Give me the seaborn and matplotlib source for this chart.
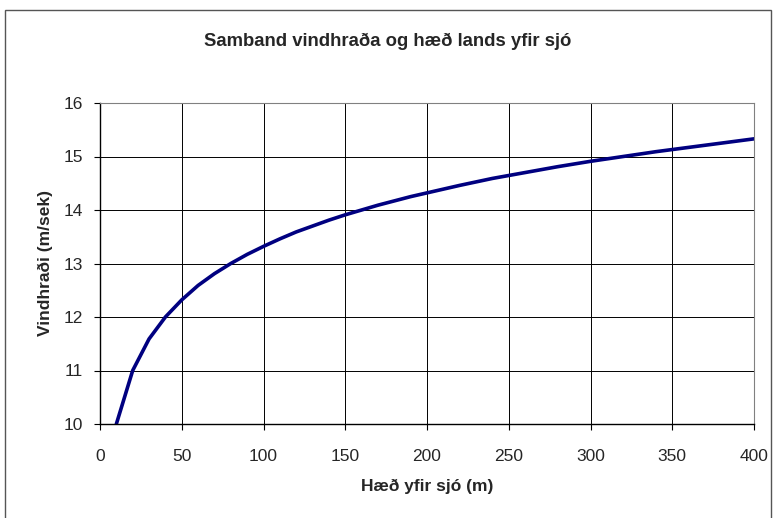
import pandas as pd
import seaborn as sns
import matplotlib.pyplot as plt
from matplotlib.patches import Rectangle

# Values
haed = [10, 20, 30, 40, 50, 60, 70, 80, 90, 100,
        110, 120, 130, 140, 150, 160, 170, 180, 190, 200,
        220, 240, 260, 280, 300, 320, 340, 360, 380, 400]
vindhradi = [10.00, 11.00, 11.59, 12.00, 12.32, 12.59, 12.81, 13.00, 13.17, 13.32,
             13.46, 13.59, 13.70, 13.81, 13.91, 14.00, 14.09, 14.17, 14.25, 14.32,
             14.46, 14.59, 14.70, 14.81, 14.91, 15.00, 15.09, 15.17, 15.25, 15.33]
x_ticks = [0, 50, 100, 150, 200, 250, 300, 350, 400]
y_ticks = [10, 11, 12, 13, 14, 15, 16]

df = pd.DataFrame({'haed': haed, 'vindhradi': vindhradi})

sns.set_style('white')
plt.rcParams['font.family'] = ['Liberation Sans', 'DejaVu Sans']

fig = plt.figure(figsize=(7.76, 5.18), dpi=100)
ax = fig.add_axes([100 / 776, 1 - 424 / 518, 654 / 776, 321 / 518])

# outer chart border
fig.patches.append(Rectangle((5 / 776, -0.01), 766 / 776, 1 - 10 / 518 + 0.01,
                             transform=fig.transFigure, fill=False,
                             edgecolor='#555555', linewidth=1.0))

sns.lineplot(data=df, x='haed', y='vindhradi', color='#000080', linewidth=2.6, ax=ax)

ax.set_xlim(0, 400)
ax.set_ylim(10, 16)
ax.set_xticks(x_ticks)
ax.set_yticks(y_ticks)
ax.grid(True, color='black', linewidth=0.7)
ax.set_axisbelow(True)
for side in ['top', 'right']:
    ax.spines[side].set_color('#808080')
for side in ['left', 'bottom']:
    ax.spines[side].set_color('black')
    ax.spines[side].set_linewidth(1.0)
ax.tick_params(axis='both', direction='out', length=4, width=0.8, color='black',
               labelsize=12.5, bottom=True, left=True)
ax.tick_params(axis='x', pad=14)
ax.tick_params(axis='y', pad=8)

ax.set_xlabel('Hæð yfir sjó (m)', fontsize=12.5, fontweight='bold', labelpad=11)
ax.set_ylabel('Vindhraði (m/sek)', fontsize=12.5, fontweight='bold', labelpad=8)
fig.text(0.5 * (205 + 570) / 776, 1 - 41 / 518, 'Samband vindhraða og hæð lands yfir sjó',
         ha='center', va='center', fontsize=13.3, fontweight='bold')

fig.savefig('out.png', dpi=100)
